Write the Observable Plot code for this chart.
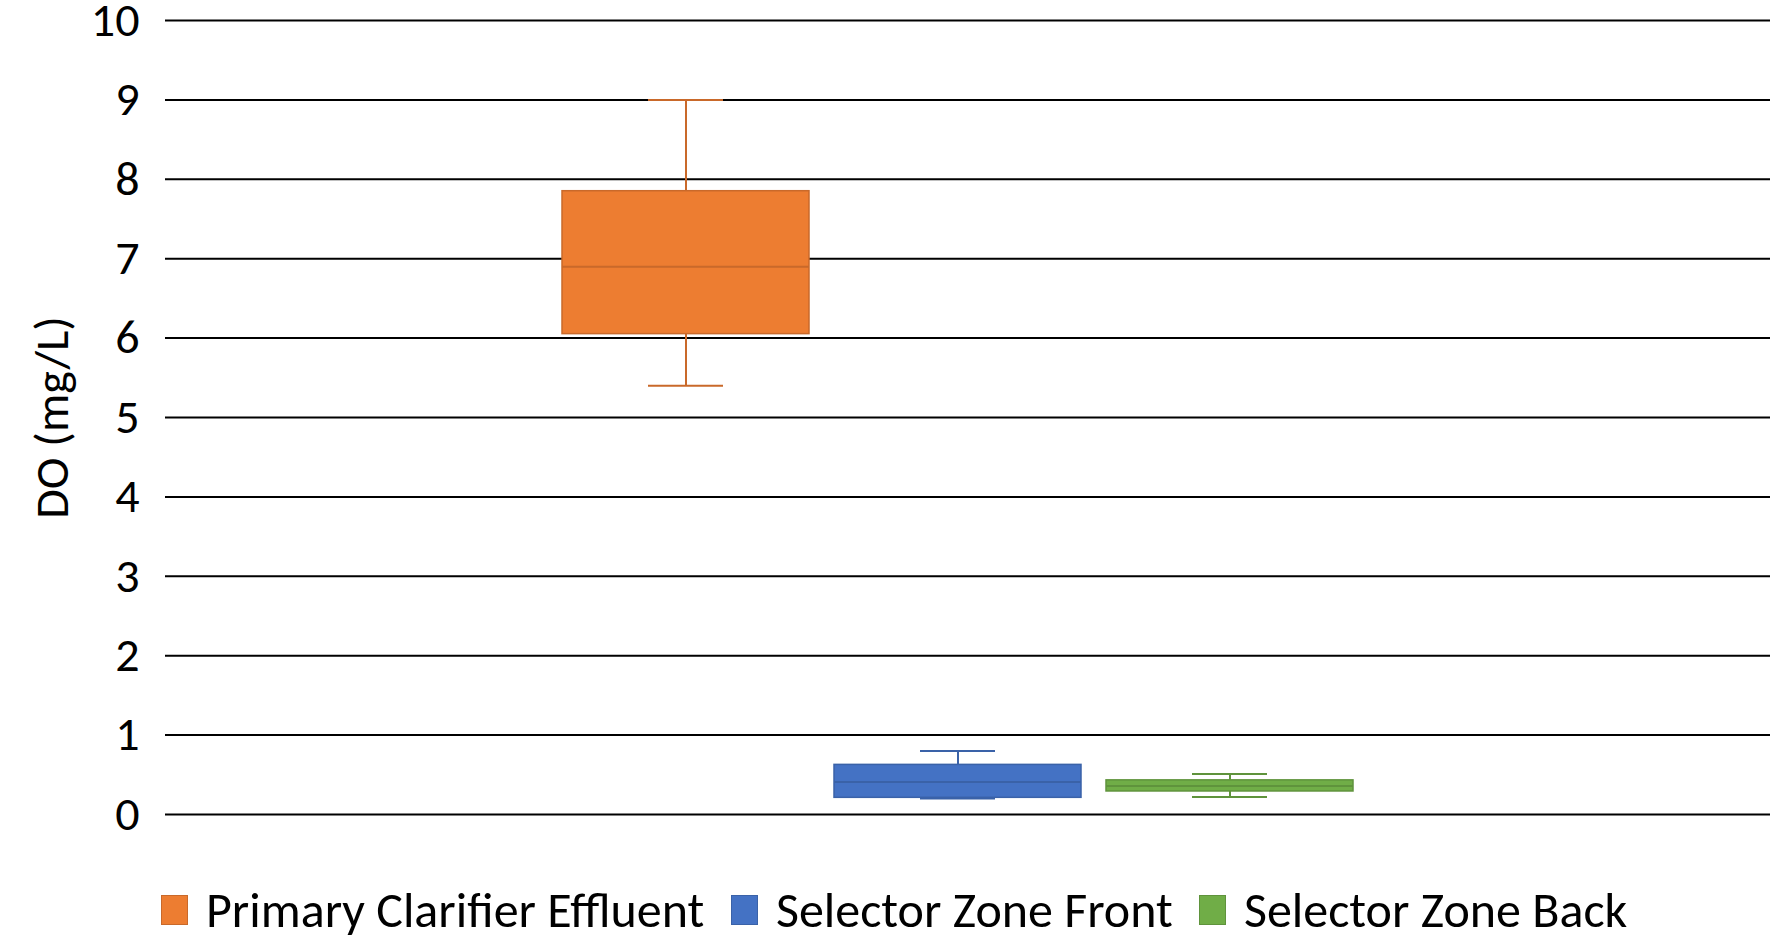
<!DOCTYPE html>
<html>
<head>
<meta charset="utf-8">
<script src="https://cdn.jsdelivr.net/npm/d3@7"></script>
<script src="https://cdn.jsdelivr.net/npm/@observablehq/plot@0.6"></script>
<style>
  html, body { margin: 0; padding: 0; background: #fff; overflow: hidden; }
  #wrap { position: relative; width: 1781px; height: 936px; }
  #legend { position: absolute; left: 0; top: 860px; width: 1781px; height: 76px;
            font-family: Carlito, Calibri, "Open Sans", sans-serif; font-size: 50px; color: #000; }
  .item { position: absolute; top: 25px; display: flex; align-items: center; white-space: nowrap; line-height: 50px; }
  .sw { width: 25px; height: 28px; margin-right: 18px; }
</style>
</head>
<body>
<div id="wrap"><div id="chart"></div><div id="legend"></div></div>
<script>
const series = ["Primary Clarifier Effluent", "Selector Zone Front", "Selector Zone Back"];
const whiskerLow = [5.4, 0.2, 0.22];
const q1 = [6.05, 0.21, 0.29];
const median = [6.9, 0.41, 0.36];
const q3 = [7.85, 0.625, 0.43];
const whiskerHigh = [9.0, 0.8, 0.51];
const fills = ["#ED7D31", "#4472C4", "#70AD47"];
const strokes = ["#C9692A", "#3A62A8", "#5F933C"];
const yTicks = [0, 1, 2, 3, 4, 5, 6, 7, 8, 9, 10];
const legendX = [161, 731, 1199];

const data = series.map((s, i) => ({
  s, lo: whiskerLow[i], q1: q1[i], med: median[i], q3: q3[i], hi: whiskerHigh[i],
  fill: fills[i], stroke: strokes[i]
}));

const chart = Plot.plot({
  width: 1781,
  height: 860,
  marginTop: 20,
  marginBottom: 46,
  marginLeft: 165,
  marginRight: 11,
  style: { fontFamily: 'Carlito, Calibri, "Open Sans", sans-serif', fontSize: "48px", color: "#000", background: "#fff", overflow: "visible" },
  x: { type: "band", domain: series, range: [549, 1365], paddingInner: 0.092, paddingOuter: 0.046, axis: null },
  y: { domain: [0, 10], ticks: yTicks, tickSize: 0, tickPadding: 26, label: "DO (mg/L)",
       labelAnchor: "center", labelArrow: "none", labelOffset: 132 },
  marks: [
    Plot.ruleY(yTicks, { stroke: "#000", strokeWidth: 2 }),
    Plot.ruleX(data, { x: "s", y1: "lo", y2: "q1", stroke: d => d.stroke, strokeWidth: 2 }),
    Plot.ruleX(data, { x: "s", y1: "q3", y2: "hi", stroke: d => d.stroke, strokeWidth: 2 }),
    Plot.tickY(data, { x: "s", y: "lo", stroke: d => d.stroke, strokeWidth: 2, insetLeft: 86, insetRight: 86 }),
    Plot.tickY(data, { x: "s", y: "hi", stroke: d => d.stroke, strokeWidth: 2, insetLeft: 86, insetRight: 86 }),
    Plot.rectY(data, { x: "s", y1: "q1", y2: "q3", fill: d => d.fill, stroke: d => d.stroke, strokeWidth: 1.5 }),
    Plot.tickY(data, { x: "s", y: "med", stroke: d => d.stroke, strokeWidth: 2 })
  ]
});
document.getElementById("chart").appendChild(chart);

const legend = document.getElementById("legend");
series.forEach((s, i) => {
  const it = document.createElement("div");
  it.className = "item";
  it.style.left = legendX[i] + "px";
  const sw = document.createElement("span");
  sw.className = "sw";
  sw.style.background = fills[i];
  sw.style.border = "1px solid " + strokes[i];
  const t = document.createElement("span");
  t.textContent = s;
  it.appendChild(sw); it.appendChild(t);
  legend.appendChild(it);
});
</script>
</body>
</html>
